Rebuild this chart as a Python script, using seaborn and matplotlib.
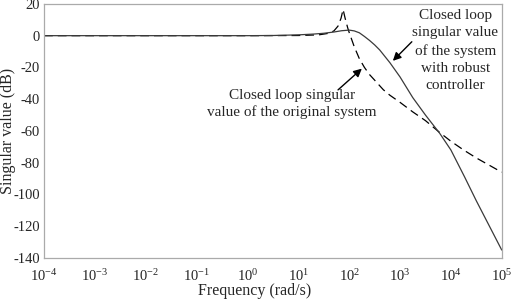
import numpy as np
import pandas as pd
import matplotlib
matplotlib.use("Agg")
import matplotlib.pyplot as plt
import seaborn as sns

# log10 of frequency (rad/s) and singular value (dB)
robust_logf = [-4, 0, 0.5, 1.0, 1.3, 1.5, 1.7, 1.85, 2.0, 2.1, 2.2, 2.3, 2.4, 2.5,
               2.6, 2.7, 2.8, 2.9, 3.0, 3.25, 3.5, 3.78, 4.0, 4.27, 4.5, 4.75, 5.0]
robust_db = [0, 0, 0.1, 0.5, 1.0, 1.5, 2.3, 3.1, 3.5, 3.0, 1.8, -0.5, -3, -5.8,
             -9, -13, -17, -21.5, -26, -39, -50, -61.5, -72, -89, -104, -119.5, -135]

orig_logf = [-4, 0, 1.0, 1.4, 1.6, 1.7, 1.78, 1.84, 1.88, 1.92, 1.97, 2.0, 2.1, 2.2,
             2.3, 2.4, 2.5, 2.67, 2.8, 3.0, 3.25, 3.5, 3.78, 4.0, 4.25, 4.5, 4.75, 5.0]
orig_db = [0, 0, 0.1, 0.5, 1.5, 3, 6, 11, 16.5, 11, 5, 2, -7, -14.5,
           -20, -24.5, -28, -34, -37.5, -42, -48, -53.5, -61, -66.5, -72, -77, -81.5, -86]

x_ticks = [1e-4, 1e-3, 1e-2, 1e-1, 1e0, 1e1, 1e2, 1e3, 1e4, 1e5]
y_ticks = [20, 0, -20, -40, -60, -80, -100, -120, -140]

robust = pd.DataFrame({"freq": np.power(10.0, robust_logf), "sv": robust_db})
orig = pd.DataFrame({"freq": np.power(10.0, orig_logf), "sv": orig_db})

sns.set_style("white")
plt.rcParams["font.family"] = ["Liberation Serif", "DejaVu Serif"]
plt.rcParams["mathtext.fontset"] = "stix"
plt.rcParams["axes.unicode_minus"] = False

fig = plt.figure(figsize=(5.12, 3.0), dpi=100)
ax = fig.add_axes([0.086, 0.14, 0.894, 0.847])

sns.lineplot(data=orig, x="freq", y="sv", ax=ax, color="black", lw=0.9,
             linestyle=(0, (7, 4)), sort=False)
sns.lineplot(data=robust, x="freq", y="sv", ax=ax, color="#3a3a3a", lw=0.9, sort=False)

ax.set_xscale("log")
ax.set_xlim(1e-4, 1e5)
ax.set_ylim(-140, 20)
ax.set_xticks(x_ticks)
ax.set_yticks(y_ticks)
ax.minorticks_off()
ax.tick_params(direction="in", length=3, color="#999999", labelsize=10.5)
ax.tick_params(axis="x", pad=7)
ax.tick_params(axis="y", pad=3)
for s in ax.spines.values():
    s.set_color("#aaaaaa")
    s.set_linewidth(0.9)

ax.set_xlabel("Frequency (rad/s)", fontsize=11.5, labelpad=0)
ax.xaxis.set_label_coords(0.46, -0.1)
ax.set_ylabel("Singular value (dB)", fontsize=11.5)
ax.yaxis.set_label_coords(-0.061, 0.5)

arrow = dict(arrowstyle="-|>", color="black", lw=1.0, mutation_scale=12)
ax.text(1.23e4, -9.5, "Closed loop\nsingular value\nof the system\nwith robust\ncontroller",
        ha="center", va="center", fontsize=11, linespacing=1.42)
ax.annotate("", xy=(10**2.82, -17.1), xytext=(10**3.27, -2.6), arrowprops=arrow)

ax.text(7.4, -43, "Closed loop singular\nvalue of the original system",
        ha="center", va="center", fontsize=11, linespacing=1.35)
ax.annotate("", xy=(10**2.29, -19.6), xytext=(10**1.74, -35.3), arrowprops=arrow)

fig.savefig("out.png", dpi=100)
